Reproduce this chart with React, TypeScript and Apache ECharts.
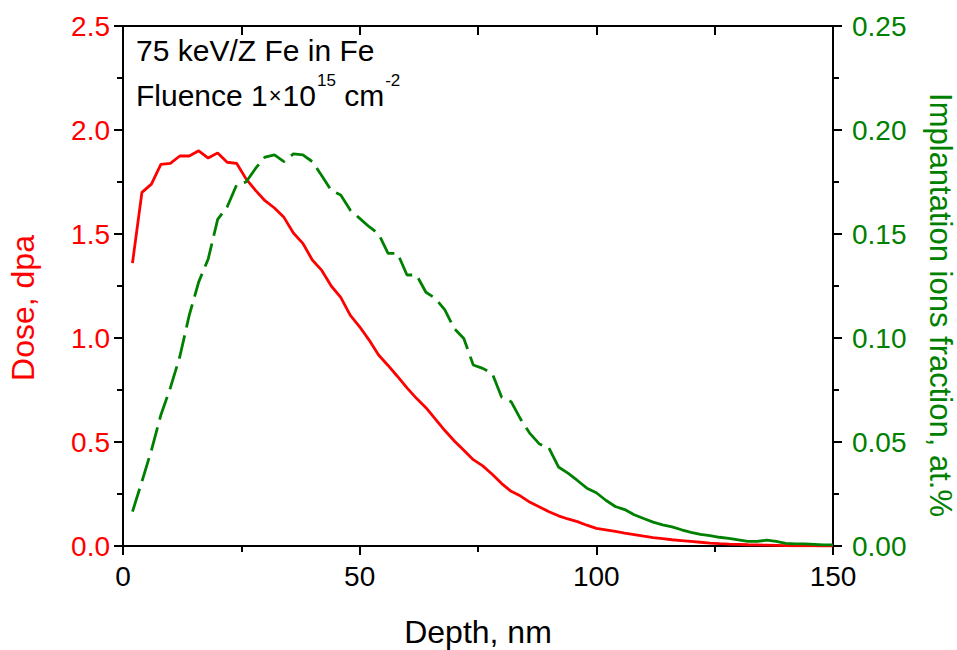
import React, { useEffect, useRef } from "react";
import * as echarts from "echarts";

const depth = [2, 4, 6, 8, 10, 12, 14, 16, 18, 20, 22, 24, 26, 28, 30, 32, 34, 36, 38, 40, 42, 44, 46, 48, 50, 52, 54, 56, 58, 60, 62, 64, 66, 68, 70, 72, 74, 76, 78, 80, 82, 84, 86, 88, 90, 92, 94, 96, 98, 100, 102, 104, 106, 108, 110, 112, 114, 116, 118, 120, 122, 124, 126, 128, 130, 132, 134, 136, 138, 140, 142, 144, 146, 148, 150];

const dose = [1.36, 1.70, 1.74, 1.835, 1.84, 1.875, 1.875, 1.90, 1.865, 1.89, 1.845, 1.84, 1.765, 1.71, 1.66, 1.625, 1.58, 1.505, 1.455, 1.375, 1.325, 1.25, 1.195, 1.11, 1.054, 0.99, 0.918, 0.868, 0.815, 0.76, 0.71, 0.665, 0.61, 0.555, 0.505, 0.46, 0.415, 0.385, 0.345, 0.30, 0.263, 0.24, 0.21, 0.188, 0.165, 0.145, 0.13, 0.117, 0.10, 0.085, 0.078, 0.07, 0.062, 0.055, 0.047, 0.04, 0.035, 0.03, 0.026, 0.022, 0.018, 0.014, 0.011, 0.009, 0.008, 0.006, 0.005, 0.004, 0.003, 0.002, 0.001, 0.001, 0.0005, 0, 0];

const implant = [0.0165, 0.031, 0.046, 0.063, 0.076, 0.091, 0.111, 0.127, 0.138, 0.157, 0.163, 0.1736, 0.175, 0.1815, 0.187, 0.188, 0.1848, 0.1885, 0.188, 0.1848, 0.178, 0.171, 0.1688, 0.1615, 0.1575, 0.1535, 0.150, 0.1407, 0.1407, 0.1303, 0.1303, 0.122, 0.119, 0.1135, 0.1045, 0.0998, 0.087, 0.0854, 0.083, 0.0715, 0.0694, 0.061, 0.054, 0.049, 0.047, 0.038, 0.035, 0.0315, 0.0278, 0.0256, 0.022, 0.019, 0.0175, 0.015, 0.0132, 0.0115, 0.0102, 0.0092, 0.0078, 0.0066, 0.0056, 0.005, 0.0042, 0.0037, 0.003, 0.0022, 0.0022, 0.0028, 0.0022, 0.0013, 0.001, 0.001, 0.0008, 0.0005, 0.0005];

const xTitle = "Depth, nm";
const yLeftTitle = "Dose, dpa";
const yRightTitle = "Implantation ions fraction, at.%";
const noteLine1 = "75 keV/Z Fe in Fe";

const RED = "#ff0000";
const GREEN = "#008000";
const FONT = "Liberation Sans, Arial, sans-serif";
const DASH_END = 90; // depth where the dashed green segment ends

export default function App() {
  const ref = useRef<HTMLDivElement>(null);

  useEffect(() => {
    if (!ref.current) return;
    const chart = echarts.init(ref.current, null, { renderer: "svg" });

    const dosePts = depth.map((d, i) => [d, dose[i]]);
    const implPts = depth.map((d, i) => [d, implant[i]]);
    const implDashed = implPts.filter((p) => p[0] <= DASH_END);
    const implSolid = implPts.filter((p) => p[0] >= DASH_END);

    const tickLabel = { fontFamily: FONT, fontSize: 28, color: "#000" };
    const tickStyle = { color: "#000", width: 2 };

    chart.setOption({
      animation: false,
      backgroundColor: "#fff",
      grid: {
        left: 123,
        right: 124,
        top: 26,
        bottom: 104,
        containLabel: false,
        outerBoundsMode: "none",
      },
      xAxis: [
        {
          type: "value",
          min: 0,
          max: 150,
          interval: 50,
          position: "bottom",
          name: xTitle,
          nameLocation: "middle",
          nameGap: 70,
          nameTextStyle: { fontFamily: FONT, fontSize: 32, color: "#000" },
          axisLine: { show: true, onZero: false, lineStyle: tickStyle },
          axisTick: { show: true, inside: false, length: 9, lineStyle: tickStyle },
          minorTick: { show: true, splitNumber: 2, length: 6, lineStyle: tickStyle },
          splitLine: { show: false },
          minorSplitLine: { show: false },
          axisLabel: { ...tickLabel, margin: 16 },
        },
        {
          type: "value",
          min: 0,
          max: 150,
          interval: 25,
          position: "top",
          axisLine: { show: true, onZero: false, lineStyle: tickStyle },
          axisTick: { show: true, inside: true, length: 9, lineStyle: tickStyle },
          splitLine: { show: false },
          axisLabel: { show: false },
        },
      ],
      yAxis: [
        {
          type: "value",
          min: 0,
          max: 2.5,
          interval: 0.5,
          position: "left",
          name: yLeftTitle,
          nameLocation: "middle",
          nameGap: 84,
          nameRotate: 90,
          nameTextStyle: { fontFamily: FONT, fontSize: 32, color: RED, padding: [0, 44, 0, 0] },
          axisLine: { show: true, onZero: false, lineStyle: tickStyle },
          axisTick: { show: true, inside: false, length: 9, lineStyle: tickStyle },
          minorTick: { show: true, splitNumber: 2, length: 6, lineStyle: tickStyle },
          splitLine: { show: false },
          minorSplitLine: { show: false },
          axisLabel: {
            ...tickLabel,
            color: RED,
            margin: 13,
            formatter: (v: number) => v.toFixed(1),
          },
        },
        {
          type: "value",
          min: 0,
          max: 0.25,
          interval: 0.05,
          position: "right",
          name: yRightTitle,
          nameLocation: "middle",
          nameGap: 92,
          nameRotate: -90,
          nameTextStyle: { fontFamily: FONT, fontSize: 31, color: GREEN, padding: [0, 0, 0, 38] },
          axisLine: { show: true, onZero: false, lineStyle: tickStyle },
          axisTick: { show: true, inside: false, length: 9, lineStyle: tickStyle },
          minorTick: { show: true, splitNumber: 2, length: 6, lineStyle: tickStyle },
          splitLine: { show: false },
          minorSplitLine: { show: false },
          axisLabel: {
            ...tickLabel,
            color: GREEN,
            margin: 19,
            formatter: (v: number) => v.toFixed(2),
          },
        },
      ],
      series: [
        {
          name: "Dose",
          type: "line",
          xAxisIndex: 0,
          yAxisIndex: 0,
          data: dosePts,
          showSymbol: false,
          symbol: "none",
          lineStyle: { color: RED, width: 2.8 },
          itemStyle: { color: RED },
        },
        {
          name: "Implantation (dashed)",
          type: "line",
          xAxisIndex: 0,
          yAxisIndex: 1,
          data: implDashed,
          showSymbol: false,
          symbol: "none",
          lineStyle: { color: GREEN, width: 2.8, type: [24, 8] },
          itemStyle: { color: GREEN },
        },
        {
          name: "Implantation",
          type: "line",
          xAxisIndex: 0,
          yAxisIndex: 1,
          data: implSolid,
          showSymbol: false,
          symbol: "none",
          lineStyle: { color: GREEN, width: 2.8 },
          itemStyle: { color: GREEN },
        },
      ],
      graphic: [
        {
          type: "text",
          left: 136,
          top: 35,
          style: {
            text: noteLine1,
            fontFamily: FONT,
            fontSize: 30,
            fill: "#000",
          },
        },
        {
          type: "text",
          left: 136,
          top: 72,
          style: {
            text: "{a|Fluence 1}{x|×}{a|10}{s|15}{a| cm}{s|-2}",
            fontFamily: FONT,
            fontSize: 30,
            fill: "#000",
            rich: {
              a: { fontFamily: FONT, fontSize: 30, fill: "#000", verticalAlign: "bottom", lineHeight: 38 },
              x: { fontFamily: FONT, fontSize: 22, fill: "#000", verticalAlign: "bottom", lineHeight: 38, padding: [0, 1, 4, 1] },
              s: { fontFamily: FONT, fontSize: 17, fill: "#000", verticalAlign: "top", lineHeight: 38, padding: [0, 0, 0, 1] },
            },
          },
        },
      ],
    });

    return () => chart.dispose();
  }, []);

  return (
    <div
      ref={ref}
      style={{ position: "fixed", left: 0, top: 0, width: 957, height: 650, background: "#fff" }}
    />
  );
}
